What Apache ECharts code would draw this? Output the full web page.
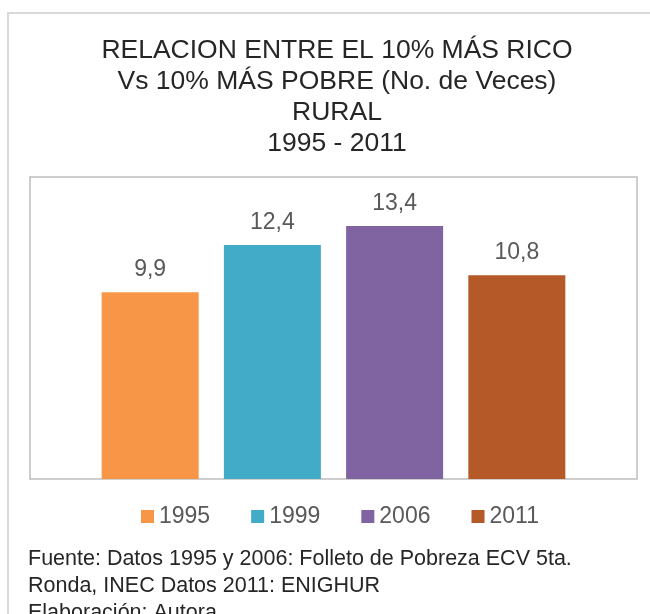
<!DOCTYPE html>
<html>
<head>
<meta charset="utf-8">
<script src="https://cdn.jsdelivr.net/npm/echarts@6/dist/echarts.min.js"></script>
<style>
html, body { margin: 0; padding: 0; background: #fff; }
#chart { width: 650px; height: 614px; }
</style>
</head>
<body>
<div id="chart"></div>
<script>
// datos
var years = ['1995', '1999', '2006', '2011'];
var ratios = [9.9, 12.4, 13.4, 10.8];
var colors = ['#f79646', '#42abc7', '#8064a2', '#b45927'];
var titleLines = ['RELACION ENTRE EL 10% MÁS RICO', 'Vs 10% MÁS POBRE (No. de Veces)', 'RURAL', '1995 - 2011'];
var footLines = ['Fuente: Datos 1995 y 2006: Folleto de Pobreza ECV 5ta.', 'Ronda, INEC Datos 2011: ENIGHUR', 'Elaboración: Autora'];

var font = "'Liberation Sans', Arial, sans-serif";
var chart = echarts.init(document.getElementById('chart'));

var series = years.map(function (y, i) {
    return {
        name: y,
        type: 'bar',
        data: [ratios[i]],
        barWidth: 97,
        barGap: '26%',
        itemStyle: { color: colors[i] },
        label: {
            show: true,
            position: 'top',
            distance: 11,
            color: '#595959',
            fontSize: 23,
            fontFamily: font,
            formatter: function (p) { return String(p.value).replace('.', ','); }
        }
    };
});

var option = {
    animation: false,
    title: {
        text: titleLines.join('\n'),
        left: 332,
        top: 30,
        textAlign: 'center',
        textStyle: {
            color: '#262626',
            fontSize: 26.5,
            lineHeight: 31,
            fontWeight: 'normal',
            fontFamily: font
        }
    },
    legend: {
        data: years,
        top: 500,
        left: 136,
        icon: 'rect',
        itemWidth: 13,
        itemHeight: 13,
        itemGap: 41,
        textStyle: { color: '#595959', fontSize: 23, fontFamily: font }
    },
    grid: {
        left: 30,
        right: 13,
        top: 177,
        bottom: 135,
        show: true,
        borderColor: '#bfbfbf',
        borderWidth: 1.5
    },
    xAxis: {
        type: 'category',
        data: [''],
        axisLine: { show: false },
        axisTick: { show: false },
        axisLabel: { show: false }
    },
    yAxis: {
        type: 'value',
        min: 0,
        max: 16,
        show: false,
        splitLine: { show: false }
    },
    graphic: [
        {
            type: 'rect',
            shape: { x: 8, y: 13, width: 700, height: 700 },
            style: { fill: null, stroke: '#d9d9d9', lineWidth: 2 },
            silent: true
        },
        {
            type: 'text',
            left: 28,
            top: 546,
            style: {
                text: footLines.join('\n'),
                fill: '#262626',
                fontSize: 21.5,
                lineHeight: 27,
                fontFamily: font
            }
        }
    ],
    series: series
};

chart.setOption(option);
</script>
</body>
</html>
